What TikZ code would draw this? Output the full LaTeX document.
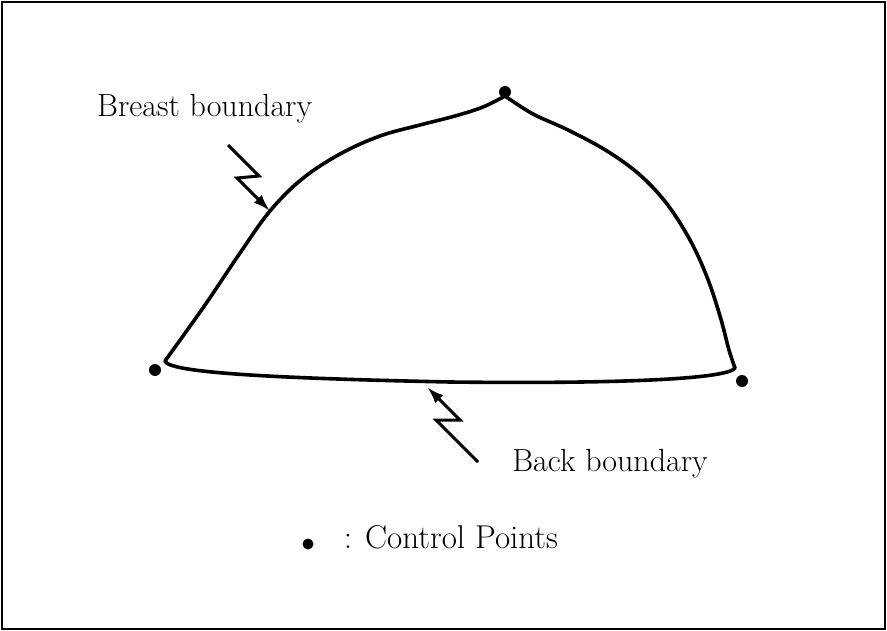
\documentclass[tikz,border=0pt]{standalone}
\usetikzlibrary{arrows.meta}
\begin{document}
\begin{tikzpicture}[x=1pt,y=-1pt,
  bound/.style={line width=3.6pt,line join=round,line cap=round},
  ctrl/.style={circle,fill=black,inner sep=0pt,minimum size=12pt},
  bolt/.style={line width=3pt,line join=miter,-{Latex[length=17pt,width=11pt]}},
  lbl/.style={font=\fontsize{32}{36}\selectfont,inner sep=0pt}]
\useasboundingbox (0,0) rectangle (887,631);
\draw[line width=2.5pt] (2,2) rectangle (885,629);
% control points
\node[ctrl] (ctop) at (505,92) {};
\node[ctrl] (cleft) at (155,370) {};
\node[ctrl] (cright) at (742,381) {};
% corners of the boundary
\coordinate (L) at (165,361);
\coordinate (T) at (505,96);
\coordinate (R) at (735,368);
% breast boundary
\draw[bound] plot[smooth,tension=0.6] coordinates {(L) (205,305) (240,253) (270,211) (302,179) (340,154) (380,136) (420,125) (455,116) (483,107) (T)};
\draw[bound] plot[smooth,tension=0.6] coordinates {(T) (533,114) (568,130) (607,151) (640,175) (667,204) (690,240) (707,277) (720,316) (729,350) (R)};
% back boundary
\draw[bound] (L) .. controls (168,372) and (260,378) .. (450,382)
  .. controls (620,384) and (728,379) .. (R);
% labels
\node[lbl,anchor=base west] (breast) at (97,117) {Breast boundary};
\node[lbl] (back) at (610,464) {Back boundary};
\node[ctrl,minimum size=11pt] (key) at (308,544) {};
\node[lbl,font=\fontsize{33}{36}\selectfont,anchor=base] (colon) at (348,548) {:};
\node[lbl,font=\fontsize{33}{36}\selectfont,anchor=base west] (keytext) at (365,548) {Control Points};
% lightning pointers
\coordinate (b1) at (228,145);
\coordinate (b2) at (259,176);
\coordinate (b3) at (237,178);
\coordinate (b4) at (270,211);
\draw[bolt] (b1) -- (b2) -- (b3) -- (b4);
\coordinate (k1) at (478,462);
\coordinate (k2) at (436,420);
\coordinate (k3) at (460,420);
\coordinate (k4) at (427,387);
\draw[bolt] (k1) -- (k2) -- (k3) -- (k4);
\end{tikzpicture}
\end{document}
